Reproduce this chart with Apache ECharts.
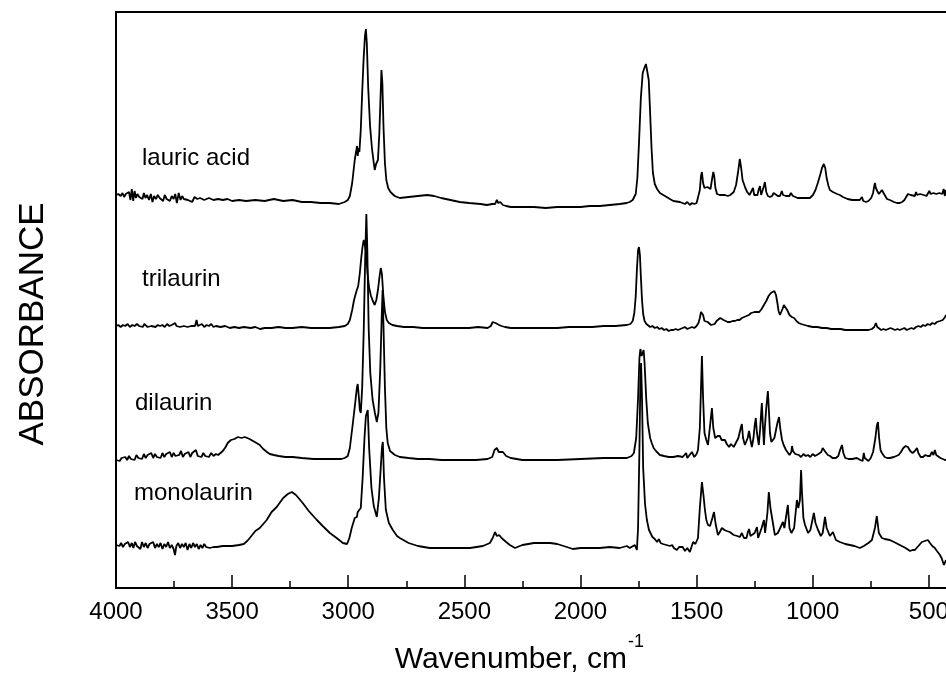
<!DOCTYPE html>
<html>
<head>
<meta charset="utf-8">
<title>IR spectra</title>
<script src="https://cdn.jsdelivr.net/npm/echarts@6/dist/echarts.min.js"></script>
<style>
  body { margin: 0; background: #fff; }
  #main { width: 946px; height: 680px; }
</style>
</head>
<body>
<div id="main"></div>
<script>
// [wavenumber cm-1, absorbance] - arbitrary units, spectra already stacked as in the figure
var lauricAcid = [
  [4000,393],[3990,394],[3980,392],[3972,395],[3965,391],[3958,394],[3950,392],[3944,396],[3938,388],[3932,399],
  [3926,387],[3920,397],[3914,390],[3908,394],[3900,391],[3893,393],[3886,389],[3880,395],[3873,390],[3866,393],
  [3858,388],[3850,394],[3843,386],[3836,392],[3828,389],[3820,393],[3812,390],[3805,392],[3797,387],[3790,393],
  [3782,389],[3775,391],[3768,387],[3760,392],[3752,389],[3745,394],[3738,385],[3730,395],[3722,388],[3715,392],
  [3708,389],[3700,391],[3690,388],[3682,390],[3672,386],[3662,391],[3650,389],[3638,390],[3620,388],[3600,390],
  [3580,388],[3560,389],[3540,388],[3520,389],[3500,387],[3470,388],[3440,387],[3400,388],[3360,387],[3320,389],
  [3280,387],[3240,388],[3200,386],[3160,386],[3120,385],[3080,385],[3040,384],[3015,386],[3002,388],[2993,392],
  [2983,405],[2972,428],[2965,438],[2962,442],[2959,432],[2956,440],[2952,436],[2946,458],[2940,495],[2934,528],
  [2928,552],[2924,559],[2920,545],[2914,500],[2906,462],[2898,440],[2890,425],[2886,418],[2880,424],[2876,426],
  [2872,428],[2866,455],[2861,490],[2857,518],[2853,505],[2848,460],[2842,425],[2836,408],[2828,400],[2818,396],
  [2800,392],[2778,390],[2740,391],[2700,392],[2660,393],[2630,392],[2600,390],[2560,388],[2520,386],[2480,385],
  [2430,384],[2403,383],[2380,384],[2368,384],[2360,388],[2354,385],[2345,386],[2334,383],[2320,382],[2300,381],
  [2250,381],[2200,381],[2150,380],[2100,381],[2050,381],[2000,381],[1960,382],[1917,382],[1874,383],[1831,384],
  [1801,385],[1788,386],[1775,388],[1762,394],[1755,410],[1748,445],[1740,490],[1732,515],[1725,520],[1718,524],
  [1712,522],[1706,508],[1700,475],[1694,440],[1688,415],[1680,404],[1670,399],[1658,395],[1636,392],[1615,389],
  [1600,387],[1572,386],[1550,384],[1540,386],[1529,383],[1520,385],[1510,384],[1500,385],[1494,387],[1486,398],
  [1481,412],[1477,416],[1472,405],[1466,400],[1460,398],[1454,401],[1450,403],[1446,400],[1440,399],[1434,408],
  [1428,416],[1424,412],[1419,400],[1412,394],[1400,393],[1390,393],[1378,393],[1365,392],[1355,393],[1340,396],
  [1330,403],[1322,415],[1314,429],[1308,420],[1302,408],[1296,404],[1290,400],[1282,396],[1272,393],[1264,394],
  [1257,400],[1252,393],[1246,392],[1238,393],[1232,399],[1227,402],[1222,393],[1216,395],[1210,402],[1206,406],
  [1200,396],[1193,392],[1184,391],[1175,392],[1168,395],[1162,393],[1150,392],[1141,392],[1133,397],[1128,393],
  [1115,392],[1100,392],[1094,395],[1085,392],[1065,390],[1050,390],[1030,390],[1012,390],[999,393],[988,398],
  [978,405],[968,413],[960,420],[952,424],[946,420],[940,410],[932,402],[926,398],[913,396],[905,394],
  [895,394],[883,393],[870,391],[850,389],[830,388],[810,388],[797,388],[788,391],[782,387],[770,386],
  [760,387],[748,390],[740,395],[735,402],[732,405],[728,400],[722,397],[715,394],[710,395],[702,398],
  [698,396],[690,393],[680,389],[668,388],[650,386],[637,385],[625,385],[615,386],[605,388],[598,390],
  [590,394],[584,396],[578,393],[570,392],[560,392],[555,396],[550,393],[544,392],[538,394],[530,395],
  [522,393],[515,394],[510,392],[504,394],[498,397],[492,394],[486,396],[480,395],[474,397],[468,394],
  [462,396],[455,395],[448,397],[442,394],[436,399],[431,392],[428,398],[426,394]
];

var trilaurin = [
  [4000,262],[3990,263],[3980,261],[3970,263],[3960,262],[3950,264],[3940,261],[3930,263],[3920,262],[3910,264],
  [3900,262],[3892,263],[3885,261],[3878,264],[3870,266],[3864,261],[3856,263],[3848,262],[3840,264],[3830,261],
  [3820,263],[3810,262],[3800,263],[3790,261],[3780,264],[3770,262],[3760,263],[3752,261],[3745,265],[3740,262],
  [3732,264],[3724,261],[3716,263],[3708,262],[3700,264],[3692,261],[3684,263],[3676,262],[3668,264],[3660,262],
  [3653,268],[3648,262],[3640,263],[3630,264],[3620,261],[3610,263],[3600,262],[3590,264],[3580,261],[3570,262],
  [3550,261],[3530,262],[3510,260],[3490,261],[3470,260],[3450,261],[3420,260],[3400,261],[3380,259],[3360,260],
  [3330,260],[3300,261],[3270,260],[3240,260],[3200,261],[3160,260],[3120,260],[3080,260],[3040,261],[3015,262],
  [3002,264],[2993,268],[2983,278],[2975,288],[2968,294],[2963,298],[2957,302],[2950,315],[2944,330],[2938,342],
  [2933,348],[2928,346],[2923,336],[2917,315],[2910,300],[2902,292],[2894,287],[2886,283],[2879,288],[2872,298],
  [2866,310],[2860,320],[2855,314],[2849,293],[2842,276],[2834,268],[2825,265],[2810,263],[2790,262],[2760,261],
  [2720,261],[2680,260],[2640,260],[2600,260],[2560,260],[2520,260],[2480,260],[2440,261],[2400,260],[2386,262],
  [2378,266],[2372,267],[2366,265],[2358,264],[2350,263],[2340,262],[2325,261],[2300,260],[2250,260],[2200,260],
  [2150,260],[2100,260],[2050,261],[2000,261],[1950,261],[1900,262],[1850,262],[1800,263],[1785,264],[1775,267],
  [1768,275],[1762,292],[1757,318],[1752,338],[1748,341],[1744,333],[1740,312],[1735,288],[1730,274],[1724,267],
  [1716,264],[1708,263],[1700,261],[1690,262],[1680,260],[1670,261],[1660,259],[1650,260],[1640,258],[1630,259],
  [1620,257],[1610,258],[1600,258],[1590,259],[1580,258],[1572,259],[1560,260],[1550,261],[1540,259],[1530,260],
  [1520,261],[1510,260],[1500,262],[1492,265],[1486,270],[1481,276],[1477,278],[1472,273],[1466,267],[1460,265],
  [1452,266],[1445,264],[1438,263],[1430,262],[1422,264],[1414,267],[1406,269],[1398,270],[1391,270],[1384,268],
  [1376,266],[1366,266],[1355,266],[1345,267],[1335,267],[1325,268],[1315,268],[1305,270],[1295,271],[1285,272],
  [1275,273],[1265,275],[1257,277],[1250,276],[1240,276],[1230,276],[1220,279],[1210,283],[1200,287],[1190,292],
  [1180,295],[1172,297],[1165,297],[1158,293],[1152,285],[1147,277],[1141,273],[1136,275],[1130,279],[1124,283],
  [1118,282],[1110,278],[1100,273],[1090,271],[1080,270],[1070,267],[1060,265],[1050,264],[1035,263],[1020,262],
  [1000,261],[980,261],[960,260],[940,260],[920,259],[900,259],[880,259],[860,258],[840,258],[820,258],
  [800,258],[780,258],[760,258],[745,259],[735,261],[728,265],[722,261],[715,259],[705,258],[695,259],
  [685,258],[675,259],[665,260],[655,259],[645,258],[635,259],[625,258],[615,259],[605,260],[595,258],
  [585,259],[575,260],[565,259],[555,261],[545,262],[535,261],[525,263],[515,262],[505,264],[495,263],
  [485,265],[475,264],[465,266],[458,265],[452,267],[446,266],[440,268],[435,267],[430,271],[428,269],[426,273]
];

var dilaurin = [
  [4000,128],[3992,129],[3984,127],[3976,130],[3968,128],[3960,131],[3952,128],[3944,132],[3936,129],[3928,131],
  [3920,128],[3912,133],[3904,130],[3896,132],[3888,129],[3880,134],[3872,130],[3864,133],[3856,131],[3848,135],
  [3840,130],[3832,134],[3824,131],[3816,133],[3808,130],[3800,135],[3792,131],[3784,134],[3776,132],[3768,136],
  [3760,131],[3752,135],[3744,132],[3736,134],[3728,133],[3720,137],[3712,131],[3704,134],[3696,132],[3688,136],
  [3680,131],[3672,135],[3664,133],[3656,138],[3648,132],[3640,134],[3632,131],[3624,135],[3616,132],[3608,134],
  [3600,131],[3590,135],[3580,132],[3570,134],[3560,133],[3553,135],[3540,137],[3528,141],[3519,145],[3505,148],
  [3490,149],[3475,151],[3460,150],[3445,151],[3437,150],[3425,149],[3410,147],[3395,145],[3381,143],[3366,139],
  [3350,136],[3338,134],[3320,133],[3300,132],[3270,131],[3240,131],[3200,130],[3150,129],[3100,129],[3060,129],
  [3030,129],[3015,130],[3002,132],[2993,140],[2980,165],[2970,185],[2963,200],[2959,204],[2954,190],[2950,178],
  [2946,175],[2940,200],[2933,260],[2927,330],[2922,374],[2918,340],[2912,260],[2905,215],[2895,188],[2885,175],
  [2877,166],[2870,175],[2862,220],[2856,270],[2852,298],[2848,260],[2842,200],[2836,160],[2830,145],[2820,137],
  [2799,133],[2778,131],[2740,130],[2700,129],[2650,129],[2600,128],[2550,128],[2500,128],[2450,128],[2400,129],
  [2380,131],[2370,138],[2360,140],[2352,136],[2345,138],[2334,136],[2320,132],[2300,130],[2250,128],[2200,128],
  [2100,128],[2000,129],[1900,130],[1800,130],[1780,132],[1770,135],[1760,150],[1752,190],[1746,230],[1742,239],
  [1737,232],[1732,230],[1728,238],[1724,225],[1717,190],[1710,165],[1700,150],[1693,145],[1685,140],[1675,137],
  [1658,133],[1640,132],[1620,131],[1600,131],[1580,132],[1560,131],[1545,135],[1540,130],[1530,133],[1520,136],
  [1510,131],[1500,134],[1494,138],[1486,160],[1481,200],[1477,232],[1472,190],[1466,155],[1458,148],[1451,143],
  [1443,160],[1434,180],[1428,160],[1420,150],[1415,148],[1409,152],[1400,152],[1392,148],[1385,147],[1378,148],
  [1370,144],[1360,141],[1352,144],[1345,146],[1340,141],[1335,143],[1320,150],[1310,160],[1305,164],[1300,150],
  [1292,143],[1285,145],[1280,150],[1274,157],[1268,148],[1262,141],[1255,150],[1250,162],[1245,170],[1240,155],
  [1232,143],[1226,160],[1222,175],[1219,185],[1214,160],[1210,143],[1206,160],[1200,180],[1193,197],[1188,175],
  [1184,155],[1178,146],[1172,148],[1165,150],[1158,158],[1152,165],[1145,171],[1140,160],[1132,148],[1125,143],
  [1115,138],[1100,133],[1092,136],[1089,142],[1085,137],[1075,134],[1060,133],[1050,131],[1040,134],[1030,132],
  [1020,133],[1010,131],[1000,134],[990,132],[975,134],[963,136],[957,140],[952,141],[945,136],[935,133],
  [925,132],[915,130],[900,130],[890,132],[882,138],[874,143],[868,135],[860,130],[845,129],[830,129],
  [810,130],[795,128],[785,127],[780,135],[776,130],[770,128],[760,127],[750,130],[740,136],[730,150],
  [724,162],[719,166],[714,150],[708,138],[702,135],[690,131],[680,130],[668,130],[650,131],[630,133],
  [620,136],[610,140],[600,142],[590,141],[580,137],[570,135],[560,137],[551,140],[545,135],[535,131],
  [525,131],[515,133],[505,132],[495,132],[487,136],[480,133],[474,138],[468,133],[460,131],[450,130],
  [440,129],[430,128],[426,128]
];

var monolaurin = [
  [4000,43],[3992,44],[3985,42],[3978,45],[3970,41],[3962,44],[3955,42],[3948,46],[3940,41],[3932,45],
  [3925,40],[3918,46],[3910,42],[3902,44],[3895,39],[3888,46],[3880,41],[3872,45],[3864,40],[3856,44],
  [3848,42],[3840,46],[3832,40],[3824,44],[3816,41],[3808,45],[3800,39],[3792,44],[3784,41],[3776,46],
  [3768,40],[3760,43],[3752,39],[3746,33],[3740,42],[3732,45],[3724,40],[3716,44],[3708,41],[3700,45],
  [3692,38],[3684,44],[3676,40],[3668,45],[3660,41],[3652,44],[3644,39],[3636,43],[3628,40],[3620,44],
  [3612,41],[3604,43],[3596,40],[3588,42],[3580,41],[3566,41],[3540,42],[3500,42],[3470,43],[3450,44],
  [3435,47],[3424,50],[3400,57],[3381,60],[3351,68],[3330,76],[3308,81],[3280,90],[3260,94],[3243,96],
  [3225,93],[3196,85],[3170,77],[3135,68],[3110,62],[3079,55],[3050,50],[3023,45],[3005,44],[2995,50],
  [2985,60],[2972,70],[2963,71],[2959,76],[2952,74],[2946,80],[2938,110],[2930,150],[2924,172],[2916,178],
  [2910,140],[2900,100],[2890,82],[2877,71],[2868,90],[2860,120],[2855,140],[2851,146],[2846,110],[2838,78],
  [2825,65],[2808,58],[2790,52],[2778,50],[2740,45],[2700,42],[2649,40],[2600,40],[2550,40],[2500,40],
  [2476,40],[2420,42],[2390,45],[2378,50],[2368,56],[2360,52],[2350,53],[2340,50],[2334,51],[2320,46],
  [2304,43],[2282,40],[2250,43],[2200,45],[2175,45],[2130,45],[2100,44],[2059,41],[2033,39],[2000,40],
  [1960,40],[1917,40],[1874,41],[1831,40],[1800,42],[1788,40],[1766,43],[1757,38],[1752,60],[1746,140],
  [1742,210],[1739,225],[1735,190],[1730,120],[1722,84],[1714,68],[1705,58],[1690,51],[1680,49],[1670,46],
  [1662,49],[1655,45],[1645,44],[1638,46],[1630,43],[1622,45],[1615,42],[1605,43],[1598,40],[1590,42],
  [1585,38],[1575,41],[1568,39],[1560,41],[1550,37],[1540,40],[1529,36],[1522,41],[1515,46],[1505,44],
  [1494,50],[1486,80],[1477,106],[1470,92],[1464,78],[1458,68],[1451,63],[1442,62],[1432,70],[1425,76],
  [1418,64],[1408,53],[1400,56],[1391,60],[1380,58],[1370,57],[1357,56],[1340,53],[1325,52],[1314,51],
  [1305,55],[1296,50],[1285,50],[1279,56],[1274,59],[1268,52],[1262,50],[1250,55],[1240,61],[1235,50],
  [1228,50],[1220,60],[1210,68],[1205,55],[1200,56],[1195,75],[1189,96],[1182,80],[1172,66],[1163,53],
  [1150,55],[1140,60],[1128,66],[1122,60],[1115,58],[1107,83],[1100,60],[1092,55],[1080,60],[1068,88],
  [1062,80],[1055,88],[1050,118],[1046,95],[1040,70],[1033,63],[1020,55],[1010,58],[995,75],[988,65],
  [977,58],[965,52],[957,55],[947,71],[940,60],[926,52],[913,56],[900,48],[883,46],[860,44],
  [840,43],[820,42],[797,40],[780,42],[760,45],[745,48],[732,60],[724,72],[715,55],[702,50],
  [690,49],[668,48],[650,46],[625,43],[600,40],[581,37],[570,38],[560,38],[545,42],[530,46],
  [517,47],[504,48],[495,45],[485,42],[474,40],[465,37],[452,33],[445,30],[438,28],[435,23],
  [430,22],[426,28]
];

var traceNames = ['lauric acid', 'trilaurin', 'dilaurin', 'monolaurin'];
var majorTicks = [4000, 3500, 3000, 2500, 2000, 1500, 1000, 500];
var minorTicks = [3750, 3250, 2750, 2250, 1750, 1250, 750];

var font = '"Liberation Sans", Arial, sans-serif';
var chart = echarts.init(document.getElementById('main'));

function spectrum(name, data) {
    return {
        name: name,
        type: 'line',
        xAxisIndex: 0,
        yAxisIndex: 0,
        data: data,
        symbol: 'none',
        silent: true,
        lineStyle: { color: '#000', width: 1.8 }
    };
}

// label next to each trace
function label(text, x, y, size) {
    return {
        type: 'text', x: x, y: y,
        style: { text: text, fill: '#000', font: size + 'px ' + font, align: 'left', verticalAlign: 'middle' }
    };
}

function gridBox() {
    return { left: 116, right: 0, top: 12, bottom: 92, containLabel: false, outerBoundsMode: 'none' };
}

var option = {
    animation: false,
    backgroundColor: '#fff',
    grid: [gridBox(), gridBox()],
    xAxis: [
        {
            type: 'value', gridIndex: 0, position: 'bottom', inverse: true, min: 426, max: 4000,
            axisLine: { show: true, lineStyle: { color: '#000', width: 2 } },
            axisTick: { show: true, inside: true, length: 13, customValues: majorTicks, lineStyle: { color: '#000', width: 1.5 } },
            axisLabel: {
                customValues: majorTicks, color: '#000', fontSize: 24, fontFamily: font, margin: 12,
                formatter: function (v) { return String(v); }
            },
            splitLine: { show: false }
        },
        {
            type: 'value', gridIndex: 0, position: 'top', inverse: true, min: 426, max: 4000,
            axisLine: { show: true, lineStyle: { color: '#000', width: 2 } },
            axisTick: { show: false }, axisLabel: { show: false }, splitLine: { show: false }
        },
        {
            type: 'value', gridIndex: 1, position: 'bottom', inverse: true, min: 426, max: 4000,
            axisLine: { show: false },
            axisTick: { show: true, inside: true, length: 7, customValues: minorTicks, lineStyle: { color: '#000', width: 1.5 } },
            axisLabel: { show: false }, splitLine: { show: false }
        }
    ],
    yAxis: [
        {
            type: 'value', gridIndex: 0, min: 0, max: 576,
            axisLine: { show: true, lineStyle: { color: '#000', width: 2 } },
            axisTick: { show: false }, axisLabel: { show: false }, splitLine: { show: false }
        },
        {
            type: 'value', gridIndex: 1, min: 0, max: 576, show: false
        }
    ],
    series: [
        spectrum(traceNames[0], lauricAcid),
        spectrum(traceNames[1], trilaurin),
        spectrum(traceNames[2], dilaurin),
        spectrum(traceNames[3], monolaurin)
    ],
    graphic: [
        label(traceNames[0], 142, 158, 24),
        label(traceNames[1], 142, 279, 24),
        label(traceNames[2], 135, 403, 24),
        label(traceNames[3], 134, 493, 24),
        {
            type: 'text', x: 627, y: 660,
            style: { text: 'Wavenumber, cm', fill: '#000', font: '30px ' + font, align: 'right', verticalAlign: 'middle' }
        },
        {
            type: 'text', x: 628, y: 642,
            style: { text: '-1', fill: '#000', font: '18px ' + font, align: 'left', verticalAlign: 'middle' }
        },
        {
            type: 'text', x: 33, y: 324, rotation: Math.PI / 2,
            style: { text: 'ABSORBANCE', fill: '#000', font: '35px ' + font, align: 'center', verticalAlign: 'middle' }
        }
    ]
};

chart.setOption(option);
</script>
</body>
</html>
